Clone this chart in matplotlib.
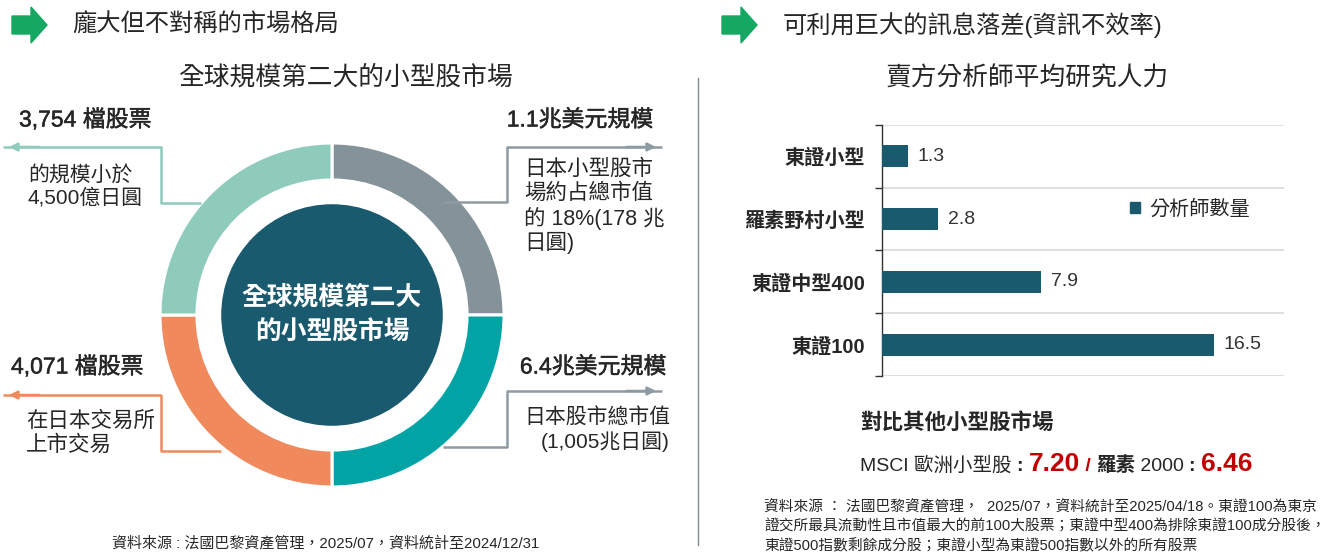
import matplotlib
matplotlib.use("Agg")
import matplotlib.pyplot as plt
import matplotlib.patheffects as pe
from matplotlib.patches import Circle, Polygon, Patch

FAM = ['Liberation Sans', 'Noto Sans CJK TC', 'DejaVu Sans']
plt.rcParams['font.family'] = FAM

# ---------------- data ----------------
left_header = '龐大但不對稱的市場格局'
right_header = '可利用巨大的訊息落差(資訊不效率)'
donut_title = '全球規模第二大的小型股市場'
donut_center = ['全球規模第二大', '的小型股市場']
ring_labels = ['1.1兆美元規模', '6.4兆美元規模', '4,071 檔股票', '3,754 檔股票']
ring_values = [1, 1, 1, 1]
ring_colors = ['#849299', '#01A3A4', '#F08A5D', '#8ECBBB']
ring_notes = [['日本小型股市', '場約占總市值', '的 18%(178 兆', '日圓)'],
              ['日本股市總市值', '(1,005兆日圓)'],
              ['在日本交易所', '上市交易'],
              ['的規模小於', '4,500億日圓']]

bar_title = '賣方分析師平均研究人力'
bar_categories = ['東證小型', '羅素野村小型', '東證中型400', '東證100']
bar_values = [1.3, 2.8, 7.9, 16.5]
bar_series = '分析師數量'

compare_title = '對比其他小型股市場'
msci_label = 'MSCI 歐洲小型股'
msci_value = '7.20'
russell_label = ('羅素', ' 2000 ')
russell_value = '6.46'

left_source = '資料來源 : 法國巴黎資產管理，2025/07，資料統計至2024/12/31'
right_source = ['資料來源 ： 法國巴黎資產管理，  2025/07，資料統計至2025/04/18。東證100為東京',
                '證交所最具流動性且市值最大的前100大股票；東證中型400為排除東證100成分股後，',
                '東證500指數剩餘成分股；東證小型為東證500指數以外的所有股票']

# ---------------- figure ----------------
W, H = 1332, 555
fig = plt.figure(figsize=(W / 100, H / 100), dpi=100)
fig.patch.set_facecolor('white')

def fx(px):
    return px / W

def fy(py):
    return 1 - py / H

TXT = '#262626'
DARK = '#1A5A6E'

# donut
cx, cy, R = 332, 315, 172
axp = fig.add_axes([fx(cx - R), fy(cy + R), 2 * R / W, 2 * R / H])
axp.pie(ring_values, colors=ring_colors, startangle=90, counterclock=False,
        radius=1.0, wedgeprops=dict(width=0.215, edgecolor='white', linewidth=2.2))
axp.add_patch(Circle((0, 0), 0.64, color=DARK, zorder=3))
axp.text(0, 0.105, donut_center[0], ha='center', va='center', color='white',
         fontsize=18.5, fontweight='bold', zorder=4)
axp.text(0, -0.105, donut_center[1], ha='center', va='center', color='white',
         fontsize=18.5, fontweight='bold', zorder=4)
axp.set_xlim(-1.0, 1.0)
axp.set_ylim(-1.0, 1.0)
axp.set_aspect('equal')
axp.axis('off')

# bar chart
axb = fig.add_axes([fx(882), fy(376), (1284 - 882) / W, (376 - 125) / H])
pos = list(range(len(bar_categories)))
bars = axb.barh(pos, bar_values, height=0.35, color=DARK, label=bar_series, zorder=3)
axb.set_xlim(0, 20)
axb.set_ylim(len(bar_categories) - 0.5, -0.5)
axb.set_yticks(pos)
axb.set_yticklabels(bar_categories, fontsize=14.5, fontweight='bold', color=TXT)
axb.set_yticks([p - 0.5 for p in pos] + [len(pos) - 0.5], minor=True)
axb.tick_params(axis='y', which='major', length=0, pad=12)
axb.tick_params(axis='y', which='minor', length=5, width=1, color='#333333', direction='out')
axb.grid(axis='y', which='minor', color='#D9D9D9', linewidth=1.2, zorder=0)
axb.set_xticks([])
for s in ['top', 'right', 'bottom']:
    axb.spines[s].set_visible(False)
axb.spines['left'].set_color('#333333')
axb.spines['left'].set_linewidth(1)
axb.bar_label(bars, fmt='%.1f', padding=7, fontsize=14, color='#333333')
axb.legend(handles=[Patch(color=DARK, label=bar_series)], loc='center left',
           bbox_to_anchor=(fx(1130), fy(209)), bbox_transform=fig.transFigure,
           frameon=False, fontsize=14.5, handlelength=0.5, handleheight=0.5,
           handletextpad=0.45, borderpad=0, borderaxespad=0)
for t in axb.get_legend().get_texts():
    t.set_color(TXT)

# overlay in pixel coordinates
ov = fig.add_axes([0, 0, 1, 1])
ov.set_xlim(0, W)
ov.set_ylim(H, 0)
ov.axis('off')
ov.patch.set_alpha(0)

def green_arrow(x0, yc):
    pts = [(x0, yc - 9), (x0 + 19, yc - 9), (x0 + 19, yc - 18), (x0 + 35, yc),
           (x0 + 19, yc + 18), (x0 + 19, yc + 9), (x0, yc + 9)]
    ov.add_patch(Polygon(pts, closed=True, color='#14A862', zorder=5))

green_arrow(12, 25)
green_arrow(722, 25)
ov.text(72, 25, left_header, fontsize=17.5, color=TXT, va='center', ha='left')
ov.text(783, 25, right_header, fontsize=17.5, color=TXT, va='center', ha='left')
ov.text(345, 77, donut_title, fontsize=18.5, color=TXT, va='center', ha='center')
ov.text(1027, 78, bar_title, fontsize=18.5, color=TXT, va='center', ha='center')

# separator
ov.plot([698, 698], [78, 545], color='#7F8C94', lw=1)

# leader lines
def leader(pts, color):
    xs = [p[0] for p in pts]
    ys = [p[1] for p in pts]
    ov.plot(xs[:-1] + [xs[-1] + (6 if xs[-1] > xs[-2] else -6)], ys, color=color, lw=1.8,
            solid_capstyle='butt', zorder=6)
    ov.annotate('', xy=pts[-1], xytext=(pts[-2][0] + (pts[-1][0] - pts[-2][0]) * 0.8, pts[-1][1]),
                arrowprops=dict(arrowstyle='-|>', color=color, lw=1.8, mutation_scale=12,
                                shrinkA=0, shrinkB=0), zorder=6)

leader([(443, 202), (507, 202), (507, 147), (656, 147)], '#8E9BA3')
leader([(443, 447), (507, 447), (507, 391), (656, 391)], '#8E9BA3')
leader([(221, 451), (161, 451), (161, 395), (9, 395)], '#F08A5D')
leader([(201, 203), (161, 203), (161, 147), (9, 147)], '#8ECBBB')

# ring labels (semi-bold look)
semi = [pe.withStroke(linewidth=0.35, foreground=TXT)]
ov.text(653, 120, ring_labels[0], fontsize=16.5, color=TXT, ha='right', va='center', path_effects=semi)
ov.text(666, 367, ring_labels[1], fontsize=16.5, color=TXT, ha='right', va='center', path_effects=semi)
ov.text(11, 367, ring_labels[2], fontsize=16.5, color=TXT, ha='left', va='center', path_effects=semi)
ov.text(19, 120, ring_labels[3], fontsize=16.5, color=TXT, ha='left', va='center', path_effects=semi)

for i, line in enumerate(ring_notes[0]):
    ov.text(524, 169 + i * 24.5, line, fontsize=15.5, color=TXT, ha='left', va='center')
for i, line in enumerate(ring_notes[1]):
    ov.text(670, 417 + i * 25, line, fontsize=15, color=TXT, ha='right', va='center')
for i, line in enumerate(ring_notes[2]):
    ov.text(26, 421 + i * 24, line, fontsize=15.5, color=TXT, ha='left', va='center')
for i, line in enumerate(ring_notes[3]):
    ov.text(28, 175 + i * 23, line, fontsize=15, color=TXT, ha='left', va='center')

ov.text(112, 543, left_source, fontsize=10.8, color=TXT, ha='left', va='center')

# comparison block
ov.text(860, 423, compare_title, fontsize=15.5, color=TXT, ha='left', va='center', fontweight='bold')
renderer = fig.canvas.get_renderer()
RED = '#C00000'
parts = [(msci_label + ' ', dict(fontsize=14, color=TXT)),
         (': ', dict(fontsize=14, color=TXT, fontweight='bold')),
         (msci_value, dict(fontsize=19, color=RED, fontweight='bold')),
         (' / ', dict(fontsize=14, color=RED, fontweight='bold')),
         (russell_label[0], dict(fontsize=14, color=TXT, fontweight='bold')),
         (russell_label[1], dict(fontsize=14, color=TXT)),
         (': ', dict(fontsize=14, color=TXT, fontweight='bold')),
         (russell_value, dict(fontsize=19, color=RED, fontweight='bold'))]
x = 860
for s, kw in parts:
    t = ov.text(x, 471, s, ha='left', va='baseline', **kw)
    bb = t.get_window_extent(renderer=renderer)
    x += bb.width

for i, line in enumerate(right_source):
    ov.text(764, 507 + i * 19.5, line, fontsize=10.6, color=TXT, ha='left', va='center')

fig.savefig('out.png', dpi=100, facecolor='white')
